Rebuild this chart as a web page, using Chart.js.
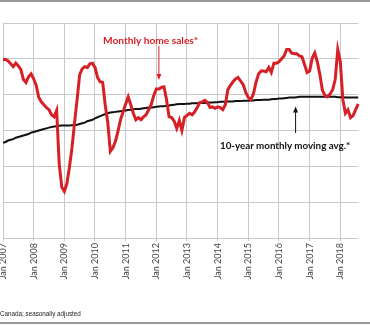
<!DOCTYPE html>
<html>
<head>
<meta charset="utf-8">
<script src="https://cdn.jsdelivr.net/npm/chart.js@4.4.1/dist/chart.umd.min.js"></script>
<style>
  html, body { margin: 0; padding: 0; background: #fff; width: 370px; height: 326px; overflow: hidden; }
  #wrap { position: relative; width: 370px; height: 326px; overflow: hidden; }
  #box { position: absolute; left: 0; top: 0; width: 371px; height: 326px; }
  .rule { position: absolute; left: 0; width: 370px; height: 2px; background: #9a9a9a; }
  .note { position: absolute; font-family: Lato, "Liberation Sans", sans-serif; font-weight: bold; white-space: nowrap; }
  #foot { position: absolute; left: 0; top: 310px; font-family: "Liberation Sans", sans-serif; font-size: 6.3px; color: #222; white-space: nowrap; }
</style>
</head>
<body>
<div id="wrap">
  <div class="rule" style="top:0"></div>
  <div id="box"><canvas id="myChart1"></canvas></div>
  <div class="note" style="left:103px; top:34px; font-size:10.2px; color:#d71f26">Monthly home sales*</div>
  <div class="note" style="left:220px; top:139px; font-size:9.8px; color:#111">10-year monthly moving avg.*</div>
  <div id="foot">Canada; seasonally adjusted</div>
  <div class="rule" style="top:322px"></div>
</div>
<script>
// monthly, Jan 2007 - Aug 2018
const years = [2007, 2008, 2009, 2010, 2011, 2012, 2013, 2014, 2015, 2016, 2017, 2018];
const months = ["Jan", "Feb", "Mar", "Apr", "May", "Jun", "Jul", "Aug", "Sep", "Oct", "Nov", "Dec"];

const homeSales = [
  44900, 44900, 44700, 44300, 43900, 44400, 44000, 43500, 42100, 41700, 42500, 42900,
  42200, 41300, 39600, 39000, 38600, 38200, 37900, 37200, 36900, 37800, 30300, 27100,
  26500, 27600, 29900, 32600, 36100, 39300, 42800, 43600, 43900, 43800, 44300, 44400,
  43800, 42400, 41800, 41700, 38600, 36100, 32100, 32600, 33500, 34900, 36500, 37600,
  38700, 39700, 38600, 37400, 36500, 36800, 36500, 36900, 37200, 37900, 38600, 39900,
  40800, 40800, 41000, 41100, 39300, 36900, 36800, 36300, 35300, 36400, 35000, 36800,
  37100, 37400, 37200, 37600, 38200, 38900, 39000, 39200, 38900, 38200, 38300, 38100,
  38300, 38200, 37900, 38600, 40700, 41300, 41800, 42200, 42400, 41900, 41400, 40300,
  39600, 39300, 40100, 41700, 42900, 43300, 43300, 43200, 43800, 43100, 44400, 44400,
  44600, 45000, 45400, 46300, 46300, 45800, 45700, 45700, 45400, 45300, 44200, 43100,
  43300, 45100, 45800, 44600, 42800, 40600, 39900, 39700, 40100, 40700, 42100, 46300,
  44600, 39300, 37400, 37900, 36800, 37100, 37900, 38700
];

const movingAvg = [
  33300, 33400, 33600, 33700, 33800, 34000, 34100, 34200, 34300, 34400, 34500, 34700,
  34800, 34900, 35000, 35100, 35200, 35300, 35400, 35500, 35550, 35600, 35650, 35700,
  35700, 35700, 35700, 35750, 35750, 35800, 35900, 36000, 36100, 36300, 36400, 36500,
  36700, 36850, 37000, 37150, 37300, 37400, 37500, 37550, 37600, 37650, 37700, 37750,
  37800, 37850, 37900, 37950, 38000, 38000, 38050, 38100, 38150, 38200, 38200, 38250,
  38300, 38350, 38400, 38400, 38450, 38500, 38550, 38600, 38650, 38700, 38700, 38700,
  38750, 38750, 38800, 38800, 38800, 38850, 38850, 38850, 38900, 38900, 38900, 38950,
  38950, 39000, 39000, 39000, 39050, 39050, 39050, 39100, 39100, 39100, 39150, 39150,
  39150, 39200, 39200, 39250, 39250, 39250, 39300, 39300, 39300, 39350, 39400, 39400,
  39450, 39450, 39500, 39550, 39600, 39600, 39600, 39650, 39700, 39700, 39700, 39700,
  39700, 39700, 39700, 39700, 39700, 39700, 39700, 39700, 39700, 39700, 39700, 39650,
  39650, 39650, 39600, 39600, 39600, 39600, 39600, 39600
];

const labels = homeSales.map((v, i) => months[i % 12] + " " + years[Math.floor(i / 12)]);

// arrows pointing at the two series
const arrows = {
  id: 'arrows',
  afterDatasetsDraw(chart) {
    const c = chart.ctx, xs = chart.scales.x, ys = chart.scales.y;
    function arrow(x, y0, y1, col) {
      const dir = y1 > y0 ? 1 : -1;
      c.save();
      c.strokeStyle = col; c.fillStyle = col; c.lineWidth = 1;
      c.beginPath(); c.moveTo(x, y0); c.lineTo(x, y1 - dir * 5); c.stroke();
      c.beginPath(); c.moveTo(x, y1); c.lineTo(x - 2.5, y1 - dir * 6); c.lineTo(x + 2.5, y1 - dir * 6); c.closePath(); c.fill();
      c.restore();
    }
    const xr = xs.getPixelForValue(61);
    arrow(xr, 46, ys.getPixelForValue(homeSales[61]) - 9, '#d71f26');
    const xb = xs.getPixelForValue(114.5);
    arrow(xb, 133, ys.getPixelForValue(movingAvg[114]) + 9, '#111');
  }
};

var ctx = document.getElementById('myChart1').getContext('2d');
var myChart = new Chart(ctx, {
  type: 'line',
  data: {
    labels: labels,
    datasets: [{
      data: homeSales,
      label: "Monthly home sales*",
      borderColor: "#d71f26",
      borderWidth: 3,
      pointRadius: 0,
      tension: 0,
      fill: false,
    }, {
      data: movingAvg,
      label: "10-year monthly moving avg.*",
      borderColor: "#111",
      borderWidth: 2,
      pointRadius: 0,
      tension: 0,
      fill: false,
    }]
  },
  options: {
    responsive: true,
    maintainAspectRatio: false,
    animation: false,
    layout: { padding: { left: 3, top: 23, right: 0, bottom: 0 } },
    plugins: { legend: { display: false }, tooltip: { enabled: false } },
    scales: {
      x: {
        grid: {
          color: (c) => (c.index % 12 === 0 ? '#c9c9c9' : 'rgba(0,0,0,0)'),
          tickLength: 3,
        },
        border: { display: false },
        ticks: {
          autoSkip: false,
          minRotation: 90,
          maxRotation: 90,
          padding: 2,
          color: '#444',
          font: { family: 'Lato', size: 9 },
          callback: function (v, i) { return i % 12 === 0 ? labels[i] : ''; }
        },
        afterFit: (s) => { s.height = 88; }
      },
      y: {
        min: 20000,
        max: 50000,
        ticks: { display: false, stepSize: 5000 },
        grid: { color: '#c9c9c9', drawTicks: false },
        border: { display: false },
        afterFit: (s) => { s.width = 0; }
      }
    }
  },
  plugins: [arrows]
});
</script>
</body>
</html>
